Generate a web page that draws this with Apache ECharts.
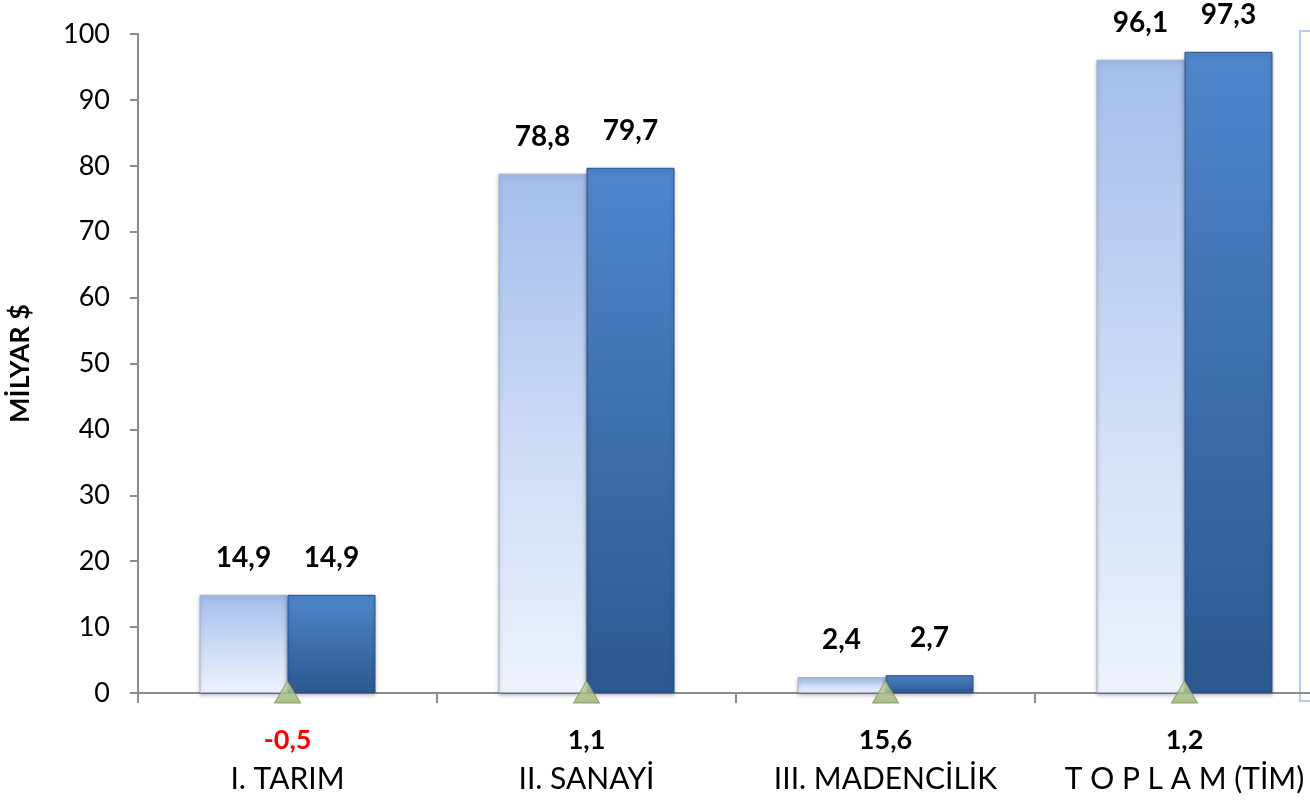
<!DOCTYPE html>
<html>
<head>
<meta charset="utf-8">
<script src="https://cdn.jsdelivr.net/npm/echarts@6/dist/echarts.min.js"></script>
<style>
  html, body { margin: 0; padding: 0; background: #fff; }
  #chart { width: 1310px; height: 802px; }
</style>
</head>
<body>
<div id="chart"></div>
<script>
// data
var categories = ['I. TARIM', 'II. SANAYİ', 'III. MADENCİLİK', 'T O P L A M (TİM)']
var prevValues = [14.9, 78.8, 2.4, 96.1]
var currValues = [14.9, 79.7, 2.7, 97.3]
var changes = [-0.5, 1.1, 15.6, 1.2]
var yTicks = [0, 10, 20, 30, 40, 50, 60, 70, 80, 90, 100]

var fontFamily = 'Lato, "Noto Sans", sans-serif'
var comma = function (v) { return String(v).replace('.', ',') }

var chart = echarts.init(document.getElementById('chart'))

var barLabel = {
  show: true,
  position: 'top',
  distance: 23,
  fontSize: 28,
  fontWeight: 'bold',
  color: '#000',
  fontFamily: fontFamily,
  formatter: function (p) { return comma(p.value) }
}

var option = {
  animation: false,
  textStyle: { fontFamily: fontFamily },
  // plot runs past the right edge, the last category is cut off
  grid: { left: 138, width: 1196, top: 34, bottom: 109, outerBoundsMode: 'none', containLabel: false },
  graphic: [{
    type: 'rect',
    left: 1299,
    top: 30,
    shape: { width: 60, height: 670 },
    style: { fill: '#fff', stroke: '#b9cdea', lineWidth: 2 },
    z: 0
  }],
  xAxis: {
    type: 'category',
    data: categories,
    axisLine: { lineStyle: { color: '#8c8c8c', width: 2 } },
    axisTick: { show: true, length: 10, lineStyle: { color: '#8c8c8c', width: 2 } },
    axisLabel: {
      interval: 0,
      margin: 28,
      formatter: function (name, idx) {
        var c = changes[idx]
        var tag = c < 0 ? 'n' : 'p'
        return '{' + tag + '|' + comma(c) + '}\n{c|' + name + '}'
      },
      rich: {
        p: { fontSize: 27, fontWeight: 'bold', color: '#000', lineHeight: 38, fontFamily: fontFamily },
        n: { fontSize: 27, fontWeight: 'bold', color: '#ff0000', lineHeight: 38, fontFamily: fontFamily },
        c: { fontSize: 30, color: '#000', lineHeight: 40, fontFamily: fontFamily }
      }
    }
  },
  yAxis: {
    type: 'value',
    min: yTicks[0],
    max: yTicks[yTicks.length - 1],
    interval: 10,
    name: 'MİLYAR $',
    nameLocation: 'middle',
    nameRotate: 90,
    nameGap: 104,
    nameTextStyle: { fontSize: 27, fontWeight: 'bold', color: '#000', fontFamily: fontFamily },
    axisLine: { show: true, lineStyle: { color: '#8c8c8c', width: 2 } },
    axisTick: { show: true, length: 8, lineStyle: { color: '#8c8c8c', width: 2 } },
    splitLine: { show: false },
    axisLabel: { fontSize: 27, color: '#000', margin: 28, fontFamily: fontFamily }
  },
  series: [
    {
      name: 'Önceki',
      type: 'bar',
      data: prevValues,
      barWidth: 88,
      barGap: '0%',
      itemStyle: {
        color: new echarts.graphic.LinearGradient(0, 0, 0, 1, [
          { offset: 0, color: '#a3bdeb' },
          { offset: 0.5, color: '#cbdaf5' },
          { offset: 1, color: '#eef3fc' }
        ]),
        borderColor: '#9fb0cc',
        borderWidth: 1,
        shadowBlur: 4,
        shadowColor: 'rgba(0,0,0,0.25)',
        shadowOffsetY: 2
      },
      label: barLabel
    },
    {
      name: 'Sonraki',
      type: 'bar',
      data: currValues,
      barWidth: 88,
      barGap: '0%',
      itemStyle: {
        color: new echarts.graphic.LinearGradient(0, 0, 0, 1, [
          { offset: 0, color: '#4f86cd' },
          { offset: 0.5, color: '#3d6fad' },
          { offset: 1, color: '#2c5890' }
        ]),
        borderColor: '#2a4f80',
        borderWidth: 1,
        shadowBlur: 4,
        shadowColor: 'rgba(0,0,0,0.25)',
        shadowOffsetY: 2
      },
      label: barLabel
    },
    {
      name: 'Değişim',
      type: 'scatter',
      data: categories.map(function () { return 0 }),
      symbol: 'triangle',
      symbolSize: [26, 22],
      symbolOffset: [0, -1],
      z: 5,
      itemStyle: {
        color: new echarts.graphic.LinearGradient(0, 0, 0, 1, [
          { offset: 0, color: '#d3e2b4' },
          { offset: 1, color: '#8faa63' }
        ]),
        borderColor: '#7c9455',
        borderWidth: 1
      }
    }
  ]
}

chart.setOption(option)
window.addEventListener('resize', function () { chart.resize() })
</script>
</body>
</html>
